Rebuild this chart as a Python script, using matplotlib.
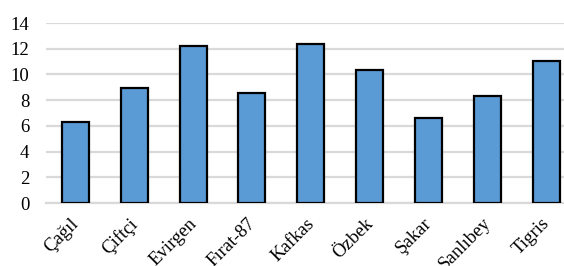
import matplotlib
matplotlib.use("Agg")
import matplotlib.pyplot as plt
import matplotlib.transforms as mtransforms

cultivars = ["Çağıl", "Çiftçi", "Evirgen", "Fırat-87", "Kafkas", "Özbek", "Şakar", "Şanlıbey", "Tigris"]
values = [6.32, 8.94, 12.21, 8.53, 12.39, 10.37, 6.61, 8.32, 11.02]
yticks = [0, 2, 4, 6, 8, 10, 12, 14]

plt.rcParams["font.family"] = ["Liberation Serif", "DejaVu Serif"]

fig = plt.figure(figsize=(5.64, 2.66), dpi=100)
ax = fig.add_axes([46 / 564, 63 / 266, 529.5 / 564, 180 / 266])
x = range(len(cultivars))
ax.bar(x, values, width=0.46, color="#5B9BD5", edgecolor="black", linewidth=1.6, zorder=3)
ax.set_xlim(-0.5, len(cultivars) - 0.5)
ax.set_ylim(0, 14)
ax.set_yticks(yticks)
ax.yaxis.grid(True, color="#d9d9d9", linewidth=1.6, zorder=0)
for s in ["top", "right", "left"]:
    ax.spines[s].set_visible(False)
ax.spines["bottom"].set_color("#d9d9d9")
ax.spines["bottom"].set_linewidth(1.6)
ax.tick_params(axis="both", length=0, labelsize=13.5)
ax.tick_params(axis="y", pad=12)
ax.set_xticks(list(x))
ax.set_xticklabels(cultivars, rotation=45, ha="right", rotation_mode="anchor")
ax.tick_params(axis="x", pad=8.5)
# rotated labels sit a little left of the bar centres in the original
shift = mtransforms.ScaledTranslation(-5 / 100, 0, fig.dpi_scale_trans)
for lbl in ax.get_xticklabels():
    lbl.set_transform(lbl.get_transform() + shift)
fig.savefig("out.png", dpi=100)
